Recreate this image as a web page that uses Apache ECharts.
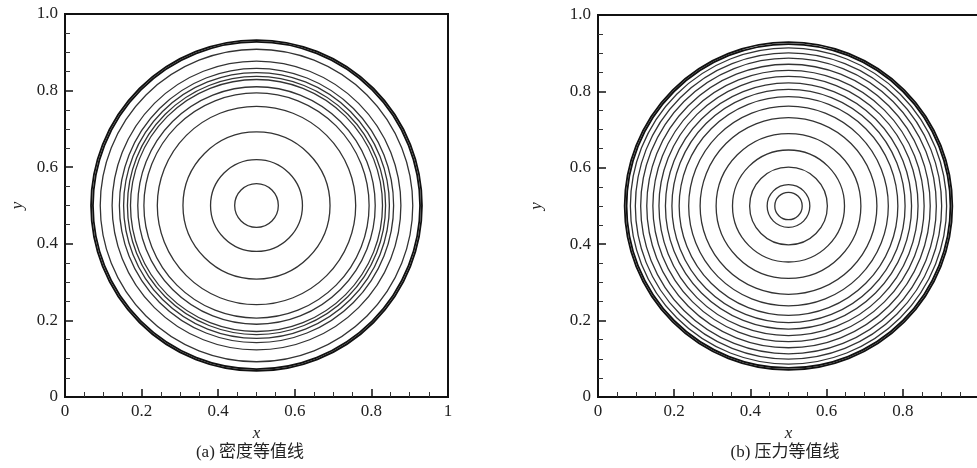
<!DOCTYPE html>
<html>
<head>
<meta charset="utf-8">
<script src="https://cdn.jsdelivr.net/npm/echarts@6/dist/echarts.min.js"></script>
<style>
  html, body { margin: 0; padding: 0; background: #fff; }
  #chart { width: 977px; height: 468px; }
</style>
</head>
<body>
<div id="chart"></div>
<script>
  // contour radii, centred on (0.5, 0.5)
  const center = [0.5, 0.5]
  const densityLevels = [0.057, 0.12, 0.192, 0.259, 0.294, 0.31, 0.329, 0.337, 0.347, 0.358, 0.377, 0.408]
  const densityFront = [0.427, 0.432]
  const pressureLevels = [0.036, 0.056, 0.102, 0.147, 0.19, 0.232, 0.262, 0.287, 0.306, 0.323, 0.34, 0.356, 0.372, 0.388, 0.402, 0.415]
  const pressureFront = [0.425, 0.43]
  const captions = ['(a) 密度等值线', '(b) 压力等值线']

  const serif = 'Liberation Serif'
  const chart = echarts.init(document.getElementById('chart'))

  const circleItem = (color, width) => (params, api) => {
    const c = api.coord(center)
    const r = api.size([api.value(0), 0])[0]
    return {
      type: 'circle',
      shape: { cx: c[0], cy: c[1], r },
      style: { fill: 'none', stroke: color, lineWidth: width }
    }
  }

  function ringSeries (levels, idx, color, width) {
    return {
      type: 'custom',
      xAxisIndex: idx,
      yAxisIndex: idx,
      silent: true,
      clip: true,
      encode: { x: 0, y: 1 },
      data: levels.map(r => [r, center[1]]),
      renderItem: circleItem(color, width)
    }
  }

  const xAxis = (idx, showMax) => ({
    gridIndex: idx,
    type: 'value',
    min: 0, max: 1, interval: 0.2,
    name: 'x',
    nameLocation: 'middle',
    nameGap: 23,
    nameTextStyle: { fontFamily: serif, fontStyle: 'italic', fontSize: 17, color: '#222' },
    axisLine: { lineStyle: { color: '#111', width: 2 } },
    axisTick: { inside: true, length: 8, lineStyle: { color: '#111', width: 1.5 } },
    minorTick: { show: true, splitNumber: 4, length: 5, lineStyle: { color: '#333', width: 1 } },
    splitLine: { show: false },
    axisLabel: {
      margin: 6,
      showMaxLabel: showMax,
      fontFamily: serif, fontSize: 17, color: '#222',
      formatter: v => (v === 0 || v === 1) ? String(v) : v.toFixed(1)
    }
  })

  const yAxis = (idx, gap) => ({
    gridIndex: idx,
    type: 'value',
    min: 0, max: 1, interval: 0.2,
    name: 'y',
    nameLocation: 'middle',
    nameGap: gap,
    nameTextStyle: { fontFamily: serif, fontStyle: 'italic', fontSize: 17, color: '#222' },
    axisLine: { lineStyle: { color: '#111', width: 2 } },
    axisTick: { inside: true, length: 8, lineStyle: { color: '#111', width: 1.5 } },
    minorTick: { show: true, splitNumber: 4, length: 5, lineStyle: { color: '#333', width: 1 } },
    splitLine: { show: false },
    axisLabel: {
      margin: 7,
      fontFamily: serif, fontSize: 17, color: '#222',
      formatter: v => v === 0 ? '0' : v.toFixed(1)
    }
  })

  chart.setOption({
    animation: false,
    grid: [
      { left: 65, top: 14, width: 383, height: 383, outerBoundsMode: 'none', containLabel: false, show: true, borderColor: '#111', borderWidth: 2, backgroundColor: 'transparent' },
      { left: 598, top: 15, width: 381, height: 382, outerBoundsMode: 'none', containLabel: false, show: true, borderColor: '#111', borderWidth: 2, backgroundColor: 'transparent' }
    ],
    xAxis: [xAxis(0, true), xAxis(1, false)],
    yAxis: [yAxis(0, 39), yAxis(1, 53)],
    series: [
      ringSeries(densityLevels, 0, '#333', 1.3),
      ringSeries(densityFront, 0, '#111', 1.8),
      ringSeries(pressureLevels, 1, '#333', 1.3),
      ringSeries(pressureFront, 1, '#111', 1.8)
    ],
    graphic: [
      { type: 'text', x: 250, y: 453, style: { text: captions[0], font: '17px "Liberation Serif", "Noto Sans CJK SC"', fill: '#222', textAlign: 'center', textVerticalAlign: 'middle' } },
      { type: 'text', x: 785, y: 453, style: { text: captions[1], font: '17px "Liberation Serif", "Noto Sans CJK SC"', fill: '#222', textAlign: 'center', textVerticalAlign: 'middle' } }
    ]
  })
</script>
</body>
</html>
